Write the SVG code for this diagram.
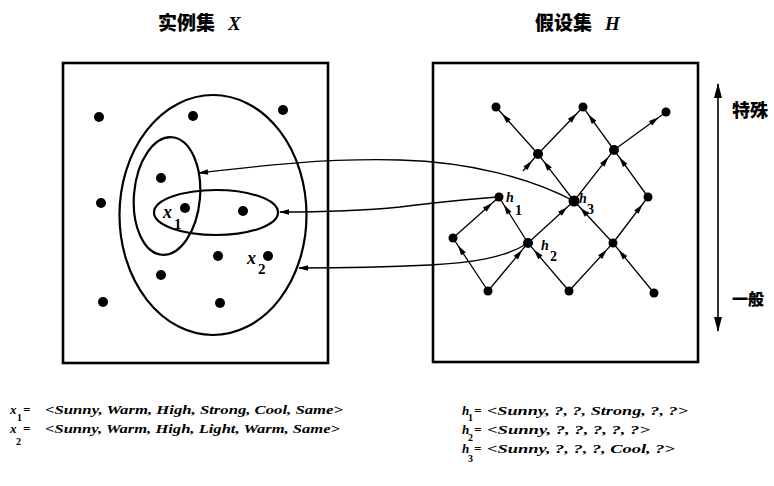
<svg xmlns="http://www.w3.org/2000/svg" width="774" height="486" viewBox="0 0 774 486">
<style>
.box{fill:none;stroke:#000;stroke-width:2.6}
.ell{fill:none;stroke:#000;stroke-width:2.2}
.dot{fill:#000}
.edge{fill:none;stroke:#000;stroke-width:1.3}
.cur{fill:none;stroke:#000;stroke-width:1.3}
.title{font-family:"Noto Sans CJK SC","Noto Sans",sans-serif;font-weight:900;font-size:19px}
.ti{font-family:"Liberation Serif",serif;font-weight:bold;font-style:italic;font-size:19px}
.lab{font-family:"Liberation Serif",serif;font-weight:bold;font-style:italic;font-size:18px}
.sub{font-family:"Liberation Serif",serif;font-weight:bold;font-size:12px}
.eq{font-family:"Liberation Serif",serif;font-weight:bold;font-style:italic;font-size:13px}
.side{font-family:"Noto Sans CJK SC",sans-serif;font-weight:900;font-size:18px}
</style>
<defs>
<marker id="a" markerUnits="userSpaceOnUse" markerWidth="12" markerHeight="8" viewBox="0 -4 10 8" refX="9" refY="0" orient="auto"><path d="M0,-2.8 L10,0 L0,2.8 z" fill="#000"/></marker>
<marker id="big" markerUnits="userSpaceOnUse" markerWidth="16" markerHeight="10" viewBox="0 -5 15 10" refX="14" refY="0" orient="auto-start-reverse"><path d="M0,-4 L15,0 L0,4 z" fill="#000"/></marker>
</defs>
<rect width="774" height="486" fill="#fff"/>

<g id="title-x"><text class="title" x="158" y="30">实例集</text><text class="ti" x="228" y="30">X</text></g>
<g id="title-h"><text class="title" x="535" y="30">假设集</text><text class="ti" x="605" y="30">H</text></g>

<g id="instance-space">
<rect class="box" x="63" y="63" width="265" height="300"/>
<ellipse class="ell" cx="213" cy="215" rx="93.5" ry="120"/>
<ellipse class="ell" cx="167" cy="196" rx="33" ry="59" transform="rotate(5 167 196)"/>
<ellipse class="ell" cx="216" cy="212.5" rx="62" ry="22.5"/>
<g class="dot">
<circle cx="99" cy="117" r="5"/><circle cx="193" cy="116" r="5"/><circle cx="283" cy="110" r="5"/>
<circle cx="161" cy="178" r="5"/><circle cx="101" cy="203" r="5"/><circle cx="243" cy="211" r="5"/>
<circle cx="218" cy="256" r="5"/><circle cx="161" cy="275" r="5"/>
<circle cx="103" cy="302" r="5"/><circle cx="220" cy="303" r="5"/>
</g>
</g>
<g id="x1"><circle class="dot" cx="185" cy="208" r="5"/><text class="lab" x="163" y="218">x</text><text class="sub" x="174" y="229" style="font-size:15px">1</text></g>
<g id="x2"><circle class="dot" cx="268" cy="256" r="5"/><text class="lab" x="247" y="264">x</text><text class="sub" x="258" y="274" style="font-size:15px">2</text></g>

<g id="hypothesis-space">
<rect class="box" x="433" y="63" width="265" height="299"/>
</g>

<g id="connectors">
<polyline class="edge" points="538,154 502.7,114.5 496,107" marker-mid="url(#a)"/>
<polyline class="edge" points="538,154 576.1,114.2 583,107" marker-mid="url(#a)"/>
<polyline class="edge" points="614,150 588.8,115.1 583,107" marker-mid="url(#a)"/>
<polyline class="edge" points="614,150 657.9,117.9 666,112" marker-mid="url(#a)"/>
<polyline class="edge" points="574,201 544.1,161.9 538,154" marker-mid="url(#a)"/>
<polyline class="edge" points="574,201 607.8,157.9 614,150" marker-mid="url(#a)"/>
<polyline class="edge" points="648,197 619.9,158.1 614,150" marker-mid="url(#a)"/>
<polyline class="edge" points="528,243 566.6,207.7 574,201" marker-mid="url(#a)"/>
<polyline class="edge" points="613,243 580.8,208.3 574,201" marker-mid="url(#a)"/>
<polyline class="edge" points="613,243 641.9,205 648,197" marker-mid="url(#a)"/>
<polyline class="edge" points="453,238 491.5,203.7 499,197" marker-mid="url(#a)"/>
<polyline class="edge" points="528,243 504.3,205.5 499,197" marker-mid="url(#a)"/>
<polyline class="edge" points="488,291 458.5,246.3 453,238" marker-mid="url(#a)"/>
<polyline class="edge" points="488,291 521.6,250.7 528,243" marker-mid="url(#a)"/>
<polyline class="edge" points="569,291 534.5,250.6 528,243" marker-mid="url(#a)"/>
<polyline class="edge" points="569,291 606.2,250.4 613,243" marker-mid="url(#a)"/>
<polyline class="edge" points="654,293 619.3,250.7 613,243" marker-mid="url(#a)"/>
<polyline class="edge" points="523,171 531.4,161.5 538,154" marker-mid="url(#a)"/>
<path class="cur" d="M574,201 C530,178 470,162 400,160 C320,158 250,167 199,173" marker-end="url(#a)"/>
<path class="cur" d="M499,197 C470,199 440,202 400,207 C360,211 320,212 280,212" marker-end="url(#a)"/>
<path class="cur" d="M528,243 C505,258 470,263 430,265 C390,267 340,268 299,268" marker-end="url(#a)"/>
<line class="edge" x1="718" y1="84" x2="718" y2="331" style="stroke-width:1.6" marker-start="url(#big)" marker-end="url(#big)"/>
</g>

<g id="nodes-h" class="dot">
<circle cx="496" cy="107" r="4.5"/><circle cx="583" cy="107" r="4.5"/><circle cx="666" cy="112" r="4.5"/>
<circle cx="538" cy="154" r="5"/><circle cx="614" cy="150" r="5"/>
<circle cx="648" cy="197" r="4.5"/>
<circle cx="453" cy="238" r="4.5"/><circle cx="613" cy="243" r="4.5"/>
<circle cx="488" cy="291" r="4.5"/><circle cx="569" cy="291" r="4.5"/><circle cx="654" cy="293" r="4.5"/>
</g>
<g id="h1"><circle class="dot" cx="499" cy="197" r="4.5"/><text class="eq" x="506" y="202" style="font-size:14px">h</text><text class="sub" x="515" y="215" style="font-size:14px">1</text></g>
<g id="h2"><circle class="dot" cx="528" cy="243" r="5"/><text class="eq" x="541" y="250" style="font-size:14px">h</text><text class="sub" x="550" y="261" style="font-size:14px">2</text></g>
<g id="h3"><circle class="dot" cx="574" cy="201" r="5.5"/><text class="eq" x="579" y="203" style="font-size:14px">h</text><text class="sub" x="587" y="214" style="font-size:14px">3</text></g>

<g id="scale-labels">
<text class="side" x="732" y="117">特殊</text>
<text class="side" x="732" y="305" style="font-size:16px">一般</text>
</g>

<g id="legend-x">
<text class="eq" x="10" y="414">x</text><text class="sub" x="17" y="421" style="font-size:10px">1</text><text class="eq" x="23" y="414">=</text>
<text class="eq" x="45" y="414" textLength="298" lengthAdjust="spacingAndGlyphs">&lt;Sunny, Warm, High, Strong, Cool, Same&gt;</text>
<text class="eq" x="10" y="433">x</text><text class="sub" x="16" y="445" style="font-size:10px">2</text><text class="eq" x="23" y="433">=</text>
<text class="eq" x="45" y="433" textLength="295" lengthAdjust="spacingAndGlyphs">&lt;Sunny, Warm, High, Light, Warm, Same&gt;</text>
</g>
<g id="legend-h">
<text class="eq" x="462" y="415">h</text><text class="sub" x="468" y="421" style="font-size:10px">1</text><text class="eq" x="474" y="415">=</text>
<text class="eq" x="487" y="415" textLength="201" lengthAdjust="spacingAndGlyphs">&lt;Sunny, ?, ?, Strong, ?, ?&gt;</text>
<text class="eq" x="462" y="434">h</text><text class="sub" x="468" y="441" style="font-size:10px">2</text><text class="eq" x="474" y="434">=</text>
<text class="eq" x="487" y="434" textLength="163" lengthAdjust="spacingAndGlyphs">&lt;Sunny, ?, ?, ?, ?, ?&gt;</text>
<text class="eq" x="462" y="453">h</text><text class="sub" x="468" y="462" style="font-size:10px">3</text><text class="eq" x="474" y="453">=</text>
<text class="eq" x="487" y="453" textLength="188" lengthAdjust="spacingAndGlyphs">&lt;Sunny, ?, ?, ?, Cool, ?&gt;</text>
</g>
</svg>
